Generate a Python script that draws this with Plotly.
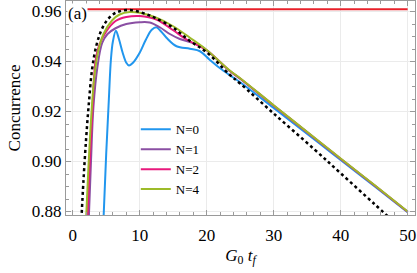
import plotly.graph_objects as go

# ---- data ----
ideal_x = [1.3, 1.6, 2.0, 2.4, 2.9, 3.5, 4.2, 5.0, 6.0, 7.0, 8.5, 10.0, 11.5, 12.5, 15.0, 17.5, 20.0, 23.4, 25.0, 30.0, 36.1, 40.0, 45.0, 47.2]
ideal_y = [0.877, 0.892, 0.909, 0.923, 0.937, 0.946, 0.952, 0.956, 0.9588, 0.9601, 0.9606, 0.9598, 0.9584, 0.9572, 0.9535, 0.9482, 0.9437, 0.9348, 0.9312, 0.9192, 0.9048, 0.8953, 0.8831, 0.8777]

n0_x = [4.6, 5.0, 5.4, 5.7, 6.0, 6.45, 6.9, 7.46, 8.0, 8.4, 9.0, 10.0, 10.9, 11.8, 12.5, 13.2, 14.0, 15.5, 17.5, 19.0, 20.4, 21.9, 23.4, 25.0, 30.0, 36.9, 40.0, 45.0, 50.0]
n0_y = [0.877, 0.903, 0.925, 0.9406, 0.948, 0.9523, 0.949, 0.9435, 0.9395, 0.9384, 0.9395, 0.9435, 0.9486, 0.9527, 0.9537, 0.952, 0.9495, 0.9461, 0.9451, 0.9441, 0.9408, 0.9375, 0.9346, 0.9317, 0.9214, 0.9071, 0.9006, 0.8902, 0.8797]

n1_x = [2.4, 2.73, 3.1, 3.7, 4.4, 5.2, 6.4, 8.0, 10.0, 11.5, 13.0, 14.5, 16.0, 17.5, 19.0, 20.0, 23.4, 25.0, 30.0, 36.9, 40.0, 45.0, 50.0]
n1_y = [0.877, 0.900, 0.922, 0.938, 0.9474, 0.951, 0.9533, 0.955, 0.9557, 0.9556, 0.9537, 0.951, 0.949, 0.9478, 0.9463, 0.9445, 0.9363, 0.9331, 0.9223, 0.9076, 0.9010, 0.8905, 0.8799]

n2_x = [2.2, 2.55, 2.9, 3.4, 3.95, 5.0, 6.4, 8.0, 10.0, 12.5, 15.0, 17.0, 20.0, 23.4, 25.0, 30.0, 36.9, 40.0, 45.0, 50.0]
n2_y = [0.877, 0.900, 0.918, 0.940, 0.9465, 0.952, 0.9562, 0.9578, 0.9582, 0.9568, 0.9525, 0.9488, 0.9445, 0.9364, 0.9332, 0.9224, 0.9077, 0.9011, 0.8906, 0.8799]

n4_x = [2.0, 2.3, 2.7, 3.2, 3.8, 4.6, 5.9, 7.0, 8.5, 10.0, 12.5, 15.0, 17.5, 20.0, 23.4, 25.0, 30.0, 36.9, 40.0, 45.0, 50.0]
n4_y = [0.877, 0.895, 0.915, 0.933, 0.944, 0.951, 0.9565, 0.9588, 0.9598, 0.9595, 0.9575, 0.9541, 0.9495, 0.9446, 0.9365, 0.9333, 0.9225, 0.9078, 0.9012, 0.8907, 0.8800]

ref_x = [0.0, 50.0]
ref_y = [0.9609, 0.9609]

x_ticks = [0, 10, 20, 30, 40, 50]
y_ticks = [0.88, 0.90, 0.92, 0.94, 0.96]

FONT = "Liberation Serif"

fig = go.Figure()
fig.add_trace(go.Scatter(x=ref_x, y=ref_y, mode="lines", line=dict(color="#E8202A", width=2), showlegend=False))
series = [
    ("N=0", n0_x, n0_y, "#2196EE"),
    ("N=1", n1_x, n1_y, "#8A4FA3"),
    ("N=2", n2_x, n2_y, "#E8197C"),
    ("N=4", n4_x, n4_y, "#9DBB29"),
]
for name, xs, ys, col in series:
    fig.add_trace(go.Scatter(x=xs, y=ys, mode="lines", name=name,
                             line=dict(color=col, width=2, shape="spline", smoothing=1.0)))
fig.add_trace(go.Scatter(x=ideal_x, y=ideal_y, mode="lines", showlegend=False,
                         line=dict(color="black", width=2.5, dash="3px,3px", shape="spline", smoothing=1.0)))

axis_common = dict(
    showline=True, linecolor="#9a9a9a", linewidth=1, mirror="ticks",
    ticks="inside", ticklen=5, tickcolor="#9a9a9a", tickwidth=1,
    showgrid=True, gridcolor="#ebebeb", gridwidth=1, zeroline=False,
    automargin=False,
    tickfont=dict(family=FONT, size=17, color="black"),
)

fig.update_xaxes(range=[-1.0, 51.1], tickvals=x_ticks, ticklabelstandoff=5,
                 minor=dict(dtick=2, tick0=0, ticks="inside", ticklen=3, tickcolor="#9a9a9a", showgrid=False),
                 title=dict(text="<i>G</i><sub>0</sub> <i>t<sub>f</sub></i>", font=dict(family=FONT, size=17, color="black"), standoff=4),
                 **axis_common)
fig.update_yaxes(range=[0.8786, 0.9642], tickvals=y_ticks, tickformat=".2f",
                 minor=dict(dtick=0.005, tick0=0.88, ticks="inside", ticklen=3, tickcolor="#9a9a9a", showgrid=False),
                 title=dict(text="Concurrence", font=dict(family=FONT, size=17, color="black"), standoff=6),
                 **axis_common)

fig.add_annotation(x=0, y=1, xref="paper", yref="paper", xanchor="left", yanchor="top",
                   text="(a)", showarrow=False, bgcolor="white", borderpad=0, xshift=1, yshift=-2,
                   font=dict(family=FONT, size=17, color="black"))

fig.update_layout(
    width=417, height=273,
    margin=dict(l=66, r=2, t=1, b=58),
    paper_bgcolor="white", plot_bgcolor="white",
    font=dict(family=FONT, color="black"),
    showlegend=True,
    legend=dict(x=0.2, y=0.47, xanchor="left", yanchor="top", bgcolor="rgba(0,0,0,0)",
                font=dict(family=FONT, size=13, color="black"), tracegroupgap=0, itemwidth=30),
)

fig.write_html("out.html", config={"displayModeBar": False},
               post_script="document.body.style.margin='0';document.body.style.overflow='hidden';")
